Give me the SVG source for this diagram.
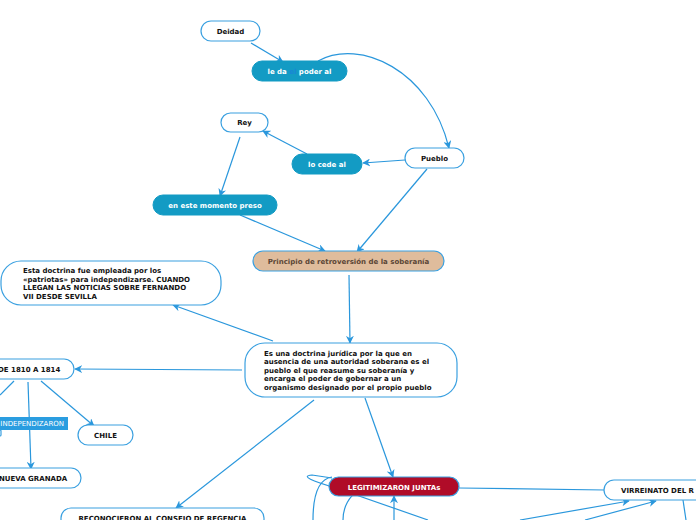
<svg xmlns="http://www.w3.org/2000/svg" width="696" height="520" viewBox="0 0 696 520">
<defs>
<marker id="arr" viewBox="0 0 10 10" refX="9" refY="5" markerWidth="8" markerHeight="8" orient="auto" markerUnits="userSpaceOnUse">
<path d="M0,0 L10,5 L0,10 L3,5 Z" fill="#2a97dc"/>
</marker>
<style>
.c{fill:none;stroke:#2a97dc;stroke-width:1.2}
.w{fill:#fff;stroke:#3aa0e0;stroke-width:1.2}
.t{fill:#139bc4;stroke:#139bc4}
.tx{font-family:"DejaVu Sans",Verdana,sans-serif;font-weight:bold;font-size:7px;fill:#111}
.wt{fill:#fff}
.m{text-anchor:middle}
</style>
</defs>
<rect width="696" height="520" fill="#fff"/>
<g id="connectors">
<line class="c" x1="251" y1="43" x2="283" y2="62" marker-end="url(#arr)"/>
<path class="c" d="M318,61 C360,38 430,70 449,148" marker-end="url(#arr)"/>
<line class="c" x1="405" y1="160" x2="363" y2="163" marker-end="url(#arr)"/>
<line class="c" x1="307" y1="154" x2="263" y2="131" marker-end="url(#arr)"/>
<line class="c" x1="240" y1="137" x2="220" y2="196" marker-end="url(#arr)"/>
<line class="c" x1="240" y1="215" x2="325" y2="251" marker-end="url(#arr)"/>
<line class="c" x1="427" y1="169" x2="357" y2="252" marker-end="url(#arr)"/>
<line class="c" x1="349" y1="275" x2="350" y2="343" marker-end="url(#arr)"/>
<line class="c" x1="273" y1="341" x2="173" y2="305" marker-end="url(#arr)"/>
<line class="c" x1="242" y1="370" x2="75" y2="369" marker-end="url(#arr)"/>
<line class="c" x1="314" y1="400" x2="176" y2="508" marker-end="url(#arr)"/>
<line class="c" x1="365" y1="398" x2="393" y2="477" marker-end="url(#arr)"/>
<line class="c" x1="41" y1="381" x2="94" y2="426" marker-end="url(#arr)"/>
<line class="c" x1="28" y1="382" x2="31" y2="469" marker-end="url(#arr)"/>
<line class="c" x1="14" y1="381" x2="0" y2="395"/>
<line class="c" x1="459" y1="488" x2="605" y2="490"/>
<line class="c" x1="520" y1="520" x2="629" y2="501" marker-end="url(#arr)"/>
<line class="c" x1="585" y1="520" x2="656" y2="501" marker-end="url(#arr)"/>
<line class="c" x1="683" y1="500" x2="686" y2="520"/>
<line class="c" x1="394" y1="520" x2="394" y2="496" marker-end="url(#arr)"/>
<path class="c" d="M313,520 C313,495 318,479 332,477"/>
<path class="c" d="M343,520 C343,506 350,496 357,492"/>
<path class="c" d="M428,520 L336,488 C312,481 300,476 312,475 L332,478"/>
</g>
<g id="deidad"><rect class="w" x="201" y="21" width="59" height="20" rx="10"/><text class="tx m" x="230.5" y="33.5">Deidad</text></g>
<g id="le-da"><rect class="t" x="252" y="61" width="95" height="20" rx="10"/><text class="tx m wt" x="299.5" y="73.5">le da <tspan fill="#1a86d6">el</tspan> poder al</text></g>
<g id="rey"><rect class="w" x="221" y="113" width="47" height="19" rx="9.5"/><text class="tx m" x="244.5" y="124.5">Rey</text></g>
<g id="lo-cede"><rect class="t" x="292" y="154" width="70" height="20" rx="10"/><text class="tx m wt" x="327" y="166.5">lo cede al</text></g>
<g id="pueblo"><rect class="w" x="405" y="148" width="59" height="20" rx="10"/><text class="tx m" x="434.5" y="160.5">Pueblo</text></g>
<g id="preso"><rect class="t" x="153" y="195" width="124" height="20" rx="10"/><text class="tx m wt" x="215" y="207.5">en este momento preso</text></g>
<g id="principio"><rect x="253" y="251" width="191" height="20" rx="10" fill="#dfbc9c" stroke="#3aa0e0" stroke-width="1.2"/><text class="tx m" x="348.5" y="263.5" style="fill:#5b4636">Principio de retroversión de la soberanía</text></g>
<g id="esta-doctrina"><rect class="w" x="1" y="261" width="220" height="44" rx="20"/>
<text class="tx" x="23" y="273">Esta doctrina fue empleada por los</text>
<text class="tx" x="23" y="281.5">«patriotas» para independizarse. CUANDO</text>
<text class="tx" x="23" y="290">LLEGAN LAS NOTICIAS SOBRE FERNANDO</text>
<text class="tx" x="23" y="298.5">VII DESDE SEVILLA</text></g>
<g id="es-una"><rect class="w" x="245" y="343" width="212" height="54" rx="20"/>
<text class="tx" x="264" y="355.5">Es una doctrina jurídica por la que en</text>
<text class="tx" x="264" y="364">ausencia de una autoridad soberana es el</text>
<text class="tx" x="264" y="372.5">pueblo el que reasume su soberanía y</text>
<text class="tx" x="264" y="381">encarga el poder de gobernar a un</text>
<text class="tx" x="264" y="389.5">organismo designado por el propio pueblo</text></g>
<g id="de1810"><rect class="w" x="-40" y="359" width="114" height="20" rx="10"/><text class="tx" x="-2" y="371.5">DE 1810 A 1814</text></g>
<g id="independizaron"><rect x="-40" y="417" width="108" height="13" fill="#2a9de0"/><text x="64" y="426" text-anchor="end" style="font-family:'DejaVu Sans',Verdana,sans-serif;font-size:7px;fill:#fff">E INDEPENDIZARON</text><rect x="-4" y="430" width="5" height="6" rx="1" class="w"/></g>
<g id="chile"><rect class="w" x="78" y="425" width="55" height="20" rx="10"/><text class="tx m" x="105.5" y="437.5">CHILE</text></g>
<g id="nueva-granada"><rect class="w" x="-30" y="468" width="111" height="20" rx="10"/><text class="tx" x="-1" y="480.5">NUEVA GRANADA</text></g>
<g id="reconocieron"><rect class="w" x="61" y="508" width="203" height="30" rx="10"/><text class="tx m" x="162.5" y="520.5">RECONOCIERON AL CONSEJO DE REGENCIA</text></g>
<g id="legitimizaron"><rect x="329" y="477" width="130" height="19" rx="9.5" fill="#b00c28" stroke="#3aa0e0" stroke-width="1.2"/><text class="tx m wt" x="394" y="489.5">LEGITIMIZARON JUNTAs</text></g>
<g id="virreinato"><rect class="w" x="604" y="480" width="130" height="20" rx="10"/><text class="tx" x="621" y="492.5">VIRREINATO DEL R</text></g>
</svg>
